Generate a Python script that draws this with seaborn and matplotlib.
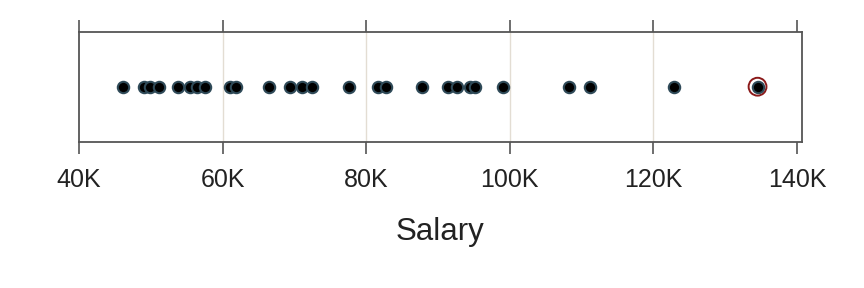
import numpy as np
import pandas as pd
import matplotlib
matplotlib.use("Agg")
import matplotlib.pyplot as plt
import seaborn as sns
from matplotlib.ticker import FuncFormatter

salary = [46100, 49100, 49900, 51100, 53800, 55500, 56500, 57600, 61000, 61900,
          66400, 69400, 71100, 72500, 77600, 81700, 82800, 87800, 91400, 92700,
          94500, 95100, 99100, 108200, 111100, 122800, 134500]
tick_values = [40000, 60000, 80000, 100000, 120000, 140000]
x_label = "Salary"

df = pd.DataFrame({"Salary": salary})
highlight = df[df["Salary"] == df["Salary"].max()]

sns.set_theme(style="white")
plt.rcParams['font.family'] = ['Liberation Sans', 'DejaVu Sans']

fig = plt.figure(figsize=(8.64, 2.88), dpi=100)
ax = fig.add_axes([79/864, 1-141.7/288, (801.7-79)/864, 110/288])

for v in tick_values[1:-1]:
    ax.axvline(v, color="#e3ddd3", lw=1.0, zorder=0)

sns.scatterplot(data=highlight, x="Salary", y=[0]*len(highlight), ax=ax,
                s=165, color="none", edgecolor="#8b1a1a", linewidth=1.4, zorder=2)
sns.stripplot(data=df, x="Salary", orient="h", jitter=False, ax=ax,
              color="black", edgecolor="#2f4a58", linewidth=1.5, size=8.2, zorder=3)

ax.set_xlim(40000, 140650)
ax.set_ylim(0.5, -0.5)
ax.set_xticks(tick_values)
ax.xaxis.set_major_formatter(FuncFormatter(lambda v, p: f"{int(v/1000)}K"))
ax.tick_params(axis="x", which="both", top=True, bottom=True, labeltop=False,
               direction="out", length=8.8, width=1.2, color="#555555",
               labelsize=18, labelcolor="#222222", pad=10)
ax.set_yticks([])
ax.set_ylabel("")
ax.set_xlabel(x_label, fontsize=22.5, color="#222222", labelpad=18)
for sp in ax.spines.values():
    sp.set_visible(True)
    sp.set_color("#555555")
    sp.set_linewidth(1.3)

fig.savefig("out.png", dpi=100)
